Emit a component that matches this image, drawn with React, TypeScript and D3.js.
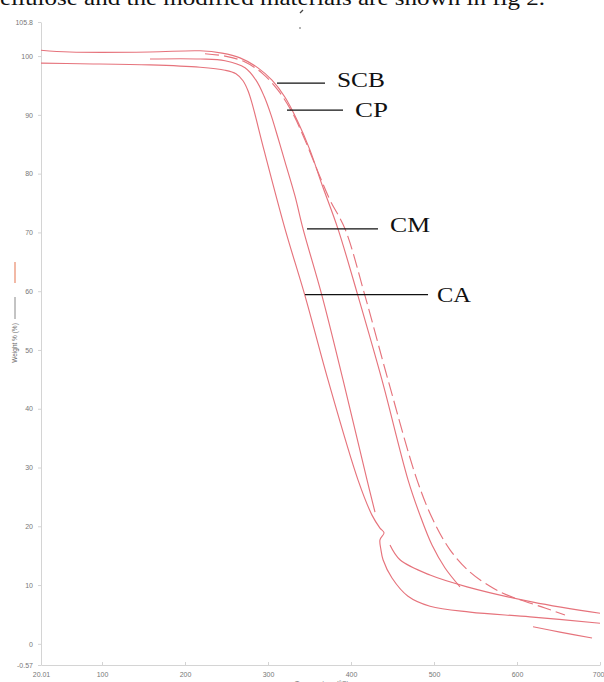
import React, { useRef, useEffect } from "react";
import * as d3 from "d3";

type Pt = [number, number] | null;

// axis ranges and tick labels as printed on the chart
const temperatureDomain: [number, number] = [26.5, 700];
const weightDomain: [number, number] = [-3.6, 105.8];
const xTickValues = [100, 200, 300, 400, 500, 600, 700];
const xFirstLabel = "20.01";
const yTickValues = [0, 10, 20, 30, 40, 50, 60, 70, 80, 90, 100, 105.8];
const yFirstLabel = "-0.57";

// [temperature °C, weight %], null = gap in the trace
const scbData: Pt[] = [
  [26.5, 101.0], [61.4, 100.7], [157.8, 100.7], [218.1, 100.9], [244.6, 100.5],
  [266.3, 99.7], [287.9, 98.0], [304.8, 95.9], [320.5, 93.0], [336.1, 88.8],
  [350.6, 84.0], [365.1, 78.1], [384.3, 70.6], [408.4, 59.2], [437.3, 44.9],
  [468.7, 27.9], [483.1, 21.9], [497.6, 16.8], [513.3, 12.9], [531.3, 9.7],
  null,
  [619.3, 2.9], [651.8, 2.0], [690.4, 1.0],
];

const cpData: Pt[] = [
  [224.1, 100.4], [248.2, 100.0], [272.3, 99.0], [292.8, 97.1], [312.0, 94.2],
  [328.9, 90.5], [344.6, 85.7], [360.2, 80.3], [374.7, 75.5], [392.8, 70.6],
  [416.9, 59.2], [444.6, 44.9], [479.5, 27.9], [498.8, 21.1], [519.3, 16.0],
  [543.4, 12.2], [567.5, 9.8], [583.1, 8.6], [603.6, 7.5], [633.7, 6.1],
  [657.8, 4.9],
];

const cmData: Pt[] = [
  [157.8, 99.5], [218.1, 99.5], [248.2, 99.2], [272.3, 98.0], [285.5, 95.9],
  [295.2, 93.2], [303.6, 90.0], [312.0, 86.1], [320.5, 82.0], [332.5, 76.2],
  [342.2, 70.6], [365.1, 59.2], [390.4, 44.9], [419.3, 27.9], [428.9, 22.4],
  null,
  [447.0, 16.8], [459.0, 14.3], [495.2, 11.7], [539.8, 9.7], [619.3, 7.1],
  [700, 5.2],
];

const caData: Pt[] = [
  [26.5, 98.8], [73.5, 98.7], [157.8, 98.5], [218.1, 98.1], [248.2, 97.6],
  [261.4, 97.0], [269.9, 95.8], [275.9, 94.1], [280.7, 92.0], [295.2, 84.0],
  [320.5, 70.6], [344.6, 59.2], [372.3, 44.9], [408.4, 27.9], [425.3, 21.9],
  [434.9, 19.7], [439.8, 18.9], [434.9, 17.7], [436.1, 16.0], [438.6, 14.3],
  [449.4, 11.2], [468.7, 8.1], [495.2, 6.4], [543.4, 5.4], [615.7, 4.6],
  [700, 3.5],
];

const seriesNames = ["SCB", "CP", "CM", "CA"];
const seriesData = [scbData, cpData, cmData, caData];

const W = 604;
const H = 682;

const TGAChart = () => {
  const svgRef = useRef<SVGSVGElement>(null);

  useEffect(() => {
    const svg = d3.select(svgRef.current);
    svg.selectAll("*").remove();

    const x = d3.scaleLinear().domain(temperatureDomain).range([41, 600]);
    const y = d3.scaleLinear().domain(weightDomain).range([665, 22]);

    // page text cut off at the top
    svg.append("text")
      .attr("x", 0).attr("y", 5)
      .attr("font-family", "Liberation Serif, serif")
      .attr("font-size", 21)
      .attr("textLength", 545)
      .attr("lengthAdjust", "spacingAndGlyphs")
      .attr("fill", "#111")
      .text("ellulose and the modified materials are shown in fig 2.");

    // stray scan marks
    svg.append("path").attr("d", "M300,13 L303,10").attr("stroke", "#444").attr("stroke-width", 1.2);
    svg.append("circle").attr("cx", 300).attr("cy", 28).attr("r", 0.8).attr("fill", "#555");

    // axes
    const yAxis = d3.axisLeft(y)
      .tickValues([weightDomain[0], ...yTickValues])
      .tickSizeInner(3).tickSizeOuter(0).tickPadding(5)
      .tickFormat((d) => (d === weightDomain[0] ? yFirstLabel : String(d)));
    const xAxis = d3.axisBottom(x)
      .tickValues([temperatureDomain[0], ...xTickValues])
      .tickSizeInner(-3).tickSizeOuter(0).tickPadding(7)
      .tickFormat((d) => (d === temperatureDomain[0] ? xFirstLabel : String(d)));

    const gy = svg.append("g").attr("transform", "translate(41,0)").call(yAxis);
    const gx = svg.append("g").attr("transform", "translate(0,665)").call(xAxis);
    [gx, gy].forEach((g) => {
      g.select(".domain").attr("stroke", "#d4d4d4");
      g.selectAll(".tick line").attr("stroke", "#d4d4d4");
      g.selectAll("text")
        .attr("fill", "#777")
        .attr("font-size", 7)
        .attr("font-family", "Liberation Sans, Arial, sans-serif");
    });
    // last x label sits right at the picture edge
    gx.selectAll(".tick text").filter((d) => d === 700).attr("text-anchor", "end").attr("dx", 4);

    // axis titles
    svg.append("text")
      .attr("transform", "translate(17,343) rotate(-90)")
      .attr("text-anchor", "middle")
      .attr("font-size", 6.5)
      .attr("font-family", "Liberation Sans, Arial, sans-serif")
      .attr("fill", "#666")
      .text("Weight % (%)");
    svg.append("line")
      .attr("x1", 15).attr("x2", 15).attr("y1", 297).attr("y2", 319)
      .attr("stroke", "#888").attr("stroke-width", 1);
    svg.append("line")
      .attr("x1", 15).attr("x2", 15).attr("y1", 262).attr("y2", 283)
      .attr("stroke", "#f2b9a6").attr("stroke-width", 2);
    svg.append("text")
      .attr("x", 322).attr("y", 686)
      .attr("text-anchor", "middle")
      .attr("font-size", 7)
      .attr("font-family", "Liberation Sans, Arial, sans-serif")
      .attr("fill", "#777")
      .text("Temperature (°C)");

    // curves
    const line = d3.line<Pt>()
      .defined((d) => d !== null)
      .x((d) => x((d as [number, number])[0]))
      .y((d) => y((d as [number, number])[1]))
      .curve(d3.curveCatmullRom.alpha(0.5));

    svg.append("g")
      .selectAll("path")
      .data(seriesData)
      .join("path")
      .attr("d", (d) => line(d))
      .attr("fill", "none")
      .attr("stroke", "#e6737c")
      .attr("stroke-width", 1.15)
      .attr("stroke-dasharray", (d, i) => (seriesNames[i] === "CP" ? "14,5" : null));

    // labels with leader lines (data units)
    const labels = [
      { name: "SCB", w: 95.4, t0: 310.8, t1: 368.7, tx: 383.1, tw: 94.7, len: 48 },
      { name: "CP", w: 90.8, t0: 322.9, t1: 390.4, tx: 404.8, tw: 89.6, len: 33 },
      { name: "CM", w: 70.6, t0: 347.0, t1: 432.5, tx: 447.0, tw: 70.1, len: 40 },
      { name: "CA", w: 59.4, t0: 344.6, t1: 492.8, tx: 503.6, tw: 58.2, len: 34 },
    ];
    const lg = svg.append("g");
    labels.forEach((l) => {
      lg.append("line")
        .attr("x1", x(l.t0)).attr("x2", x(l.t1))
        .attr("y1", y(l.w)).attr("y2", y(l.w))
        .attr("stroke", "#111").attr("stroke-width", 1.3);
      lg.append("text")
        .attr("x", x(l.tx)).attr("y", y(l.tw))
        .attr("font-family", "Liberation Serif, Times New Roman, serif")
        .attr("font-size", 20)
        .attr("textLength", l.len)
        .attr("lengthAdjust", "spacingAndGlyphs")
        .attr("fill", "#111")
        .text(l.name);
    });
  });

  return (
    <svg
      ref={svgRef}
      width={W}
      height={H}
      style={{ position: "absolute", left: 0, top: 0, background: "#fff" }}
    ></svg>
  );
};

export default function App() {
  return <TGAChart />;
}
